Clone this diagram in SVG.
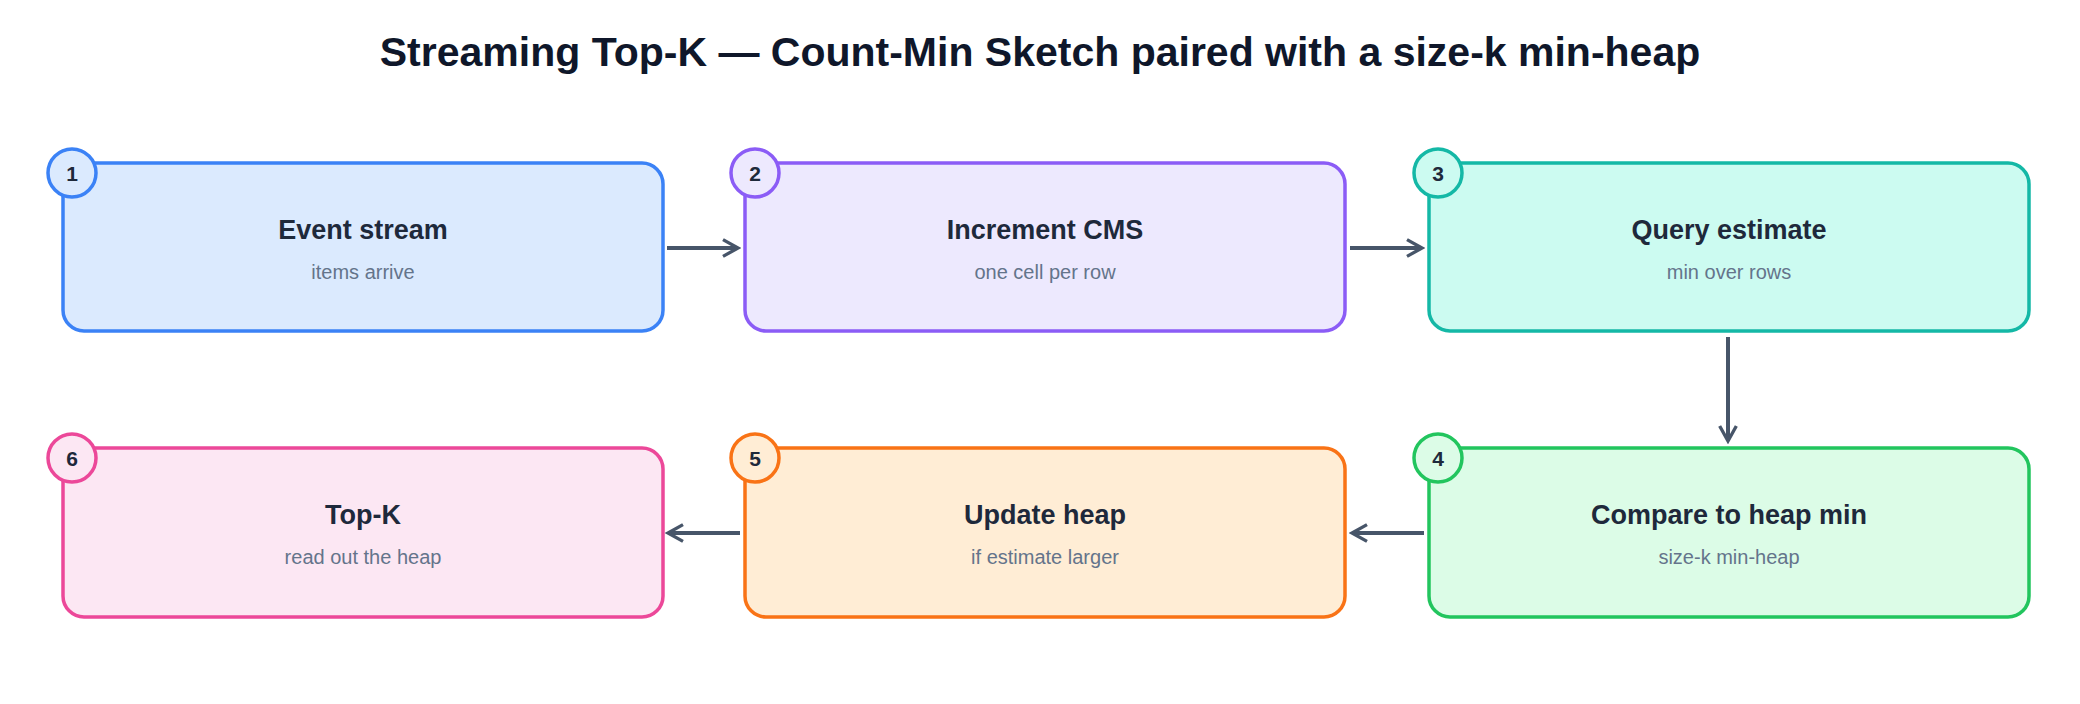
<svg xmlns="http://www.w3.org/2000/svg" width="2080" height="704" viewBox="0 0 2080 704">
<style>
text{font-family:"Liberation Sans",Arial,sans-serif}
.t{font-size:27px;font-weight:bold;fill:#1e293b;text-anchor:middle}
.s{font-size:20px;fill:#64748b;text-anchor:middle}
.n{font-size:21px;font-weight:bold;fill:#1e293b;text-anchor:middle}
.c path{stroke:#475569;stroke-width:4;fill:none}
</style>
<defs><marker id="a" viewBox="0 0 12 12" refX="10" refY="6" markerWidth="5" markerHeight="5" orient="auto" markerUnits="strokeWidth"><path d="M1 1L10 6L1 11" fill="none" stroke="#475569" stroke-width="2"/></marker></defs>
<rect width="2080" height="704" fill="#fff"/>
<text x="1040" y="66" style="font-size:41px;font-weight:bold;fill:#0f172a;text-anchor:middle">Streaming Top-K — Count-Min Sketch paired with a size-k min-heap</text>
<g id="n1"><rect x="63" y="163" width="600" height="168" rx="21" fill="#dbeafe" stroke="#3b82f6" stroke-width="3.5"/><circle cx="72" cy="173" r="24" fill="#dbeafe" stroke="#3b82f6" stroke-width="3.5"/><text class="n" x="72" y="181">1</text><text class="t" x="363" y="239">Event stream</text><text class="s" x="363" y="279">items arrive</text></g>
<g id="n2"><rect x="745" y="163" width="600" height="168" rx="21" fill="#ede9fe" stroke="#8b5cf6" stroke-width="3.5"/><circle cx="755" cy="173" r="24" fill="#ede9fe" stroke="#8b5cf6" stroke-width="3.5"/><text class="n" x="755" y="181">2</text><text class="t" x="1045" y="239">Increment CMS</text><text class="s" x="1045" y="279">one cell per row</text></g>
<g id="n3"><rect x="1429" y="163" width="600" height="168" rx="21" fill="#ccfbf1" stroke="#14b8a6" stroke-width="3.5"/><circle cx="1438" cy="173" r="24" fill="#ccfbf1" stroke="#14b8a6" stroke-width="3.5"/><text class="n" x="1438" y="181">3</text><text class="t" x="1729" y="239">Query estimate</text><text class="s" x="1729" y="279">min over rows</text></g>
<g id="n4"><rect x="1429" y="448" width="600" height="169" rx="21" fill="#dcfce7" stroke="#22c55e" stroke-width="3.5"/><circle cx="1438" cy="458" r="24" fill="#dcfce7" stroke="#22c55e" stroke-width="3.5"/><text class="n" x="1438" y="466">4</text><text class="t" x="1729" y="524">Compare to heap min</text><text class="s" x="1729" y="564">size-k min-heap</text></g>
<g id="n5"><rect x="745" y="448" width="600" height="169" rx="21" fill="#ffedd5" stroke="#f97316" stroke-width="3.5"/><circle cx="755" cy="458" r="24" fill="#ffedd5" stroke="#f97316" stroke-width="3.5"/><text class="n" x="755" y="466">5</text><text class="t" x="1045" y="524">Update heap</text><text class="s" x="1045" y="564">if estimate larger</text></g>
<g id="n6"><rect x="63" y="448" width="600" height="169" rx="21" fill="#fce7f3" stroke="#ec4899" stroke-width="3.5"/><circle cx="72" cy="458" r="24" fill="#fce7f3" stroke="#ec4899" stroke-width="3.5"/><text class="n" x="72" y="466">6</text><text class="t" x="363" y="524">Top-K</text><text class="s" x="363" y="564">read out the heap</text></g>
<g class="c">
<path d="M667 248H738" marker-end="url(#a)"/>
<path d="M1350 248H1422" marker-end="url(#a)"/>
<path d="M1728 337V441" marker-end="url(#a)"/>
<path d="M1424 533H1352" marker-end="url(#a)"/>
<path d="M740 533H668" marker-end="url(#a)"/>
</g>
</svg>
